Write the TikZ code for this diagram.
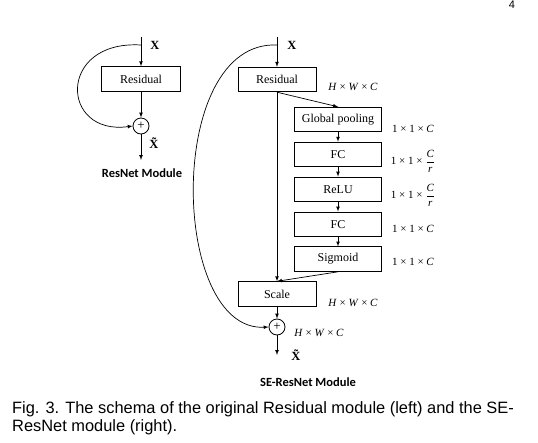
\documentclass[tikz,border=0pt]{standalone}
\usepackage{amsmath}
\usepackage{fontspec}
\setmainfont{Liberation Serif}
\newfontfamily\capfont{Liberation Sans}
\newfontfamily\modfont{Carlito}
\usetikzlibrary{arrows,positioning}

\begin{document}
\begin{tikzpicture}[x=1pt,y=-1pt,% pixel grid of the figure, y downwards
			every node/.style={
				align=center		% so that "\\" works
			},
			box/.style={rectangle,draw=black,line width=0.9pt,inner sep=0pt,
				minimum height=24.5pt,font=\fontsize{12}{14}\selectfont},
			wide/.style={box,minimum width=87pt},
			sum/.style={circle,draw=black,line width=0.8pt,inner sep=0pt,
				minimum size=16pt,font=\fontsize{13}{13}\selectfont},
			dim/.style={inner sep=0pt,font=\fontsize{11}{12}\selectfont},
			var/.style={inner sep=0pt,font=\bfseries\fontsize{12.5}{12}\selectfont},
			title/.style={inner sep=0pt,font=\modfont\bfseries\fontsize{12.5}{14}\selectfont},
			every edge/.style={draw,line width=0.7pt},
			>=latex
		]
		\useasboundingbox (0,0) rectangle (538,442);
		% ResNet module (left)
		\coordinate (L0) at (141,37);
		\coordinate (LS) at (141,45);
		\node[box,minimum width=79pt](L1) at (141,79){Residual};
		\node[sum](L2) at (141,126){+};
		\coordinate (L3) at (141,160);
		\node[var](LX) at (155,45){X};
		\node[var](LY) at (154,143){X̃};
		\node[title](LT) at (142,173){ResNet Module};
		\path[->]
		(L0)edge []	node [] {} (L1)
		(L1)edge []	node [] {} (L2)
		(L2)edge []	node [] {} (L3)
		;
		\draw[->,line width=0.7pt] (LS) .. controls (57,40) and (60,136) .. (L2.west);
		% SE-ResNet module (right)
		\coordinate (S0) at (277,37);
		\coordinate (SS) at (277,45);
		\node[box,minimum width=78pt](S1) at (277,79.5){Residual};
		\node[wide](S2) at (338,119.5){Global pooling};
		\node[wide](S3)[below=9.5pt of S2]{FC};
		\node[wide](S4)[below=9.5pt of S3]{ReLU};
		\node[wide](S5)[below=9.5pt of S4]{FC};
		\node[wide](S6)[below=9.5pt of S5]{Sigmoid};
		\node[box,minimum width=78pt](S7) at (277,294){Scale};
		\node[sum](S8) at (277,327){+};
		\coordinate (S9) at (277,355);
		\node[var](SX) at (292,45){X};
		\node[var](SY) at (296,355){X̃};
		\node[title](ST) at (308,382){SE-ResNet Module};
		% output sizes
		\node[dim](D1) at (353,87){\textit{H} × \textit{W} × \textit{C}};
		\node[dim](D2) at (413,129){1 × 1 × \textit{C}};
		\node[dim](D3) at (413,161){1 × 1 × $\dfrac{\textit{C}}{\textit{r}}$};
		\node[dim](D4) at (413,195){1 × 1 × $\dfrac{\textit{C}}{\textit{r}}$};
		\node[dim](D5) at (413,229){1 × 1 × \textit{C}};
		\node[dim](D6) at (413,262){1 × 1 × \textit{C}};
		\node[dim](D7) at (353,303){\textit{H} × \textit{W} × \textit{C}};
		\node[dim](D8) at (319,333){\textit{H} × \textit{W} × \textit{C}};
		\path[->]
		(S0)edge []	node [] {} (S1)
		(S1.south)edge []	node [] {} (S2.north)
		(S2)edge []	node [] {} (S3)
		(S3)edge []	node [] {} (S4)
		(S4)edge []	node [] {} (S5)
		(S5)edge []	node [] {} (S6)
		(S1.south)edge []	node [] {} (S7.north)
		(S6.south)edge []	node [] {} (S7.north)
		(S7)edge []	node [] {} (S8)
		(S8)edge []	node [] {} (S9)
		;
		\draw[->,line width=0.7pt] (SS) .. controls (165,40) and (170,332) .. (S8.west);
		% caption and page number
		\node[anchor=base west,inner sep=0pt,font=\capfont\fontsize{16.4}{18}\selectfont](CP1) at (12,413)
			{Fig. 3. The schema of the original Residual module (left) and the SE-};
		\node[anchor=base west,inner sep=0pt,font=\capfont\fontsize{16.4}{18}\selectfont](CP2) at (12,431)
			{ResNet module (right).};
		\node[font=\capfont\fontsize{11}{12}\selectfont](PG) at (512,5){4};
	\end{tikzpicture}
\end{document}
